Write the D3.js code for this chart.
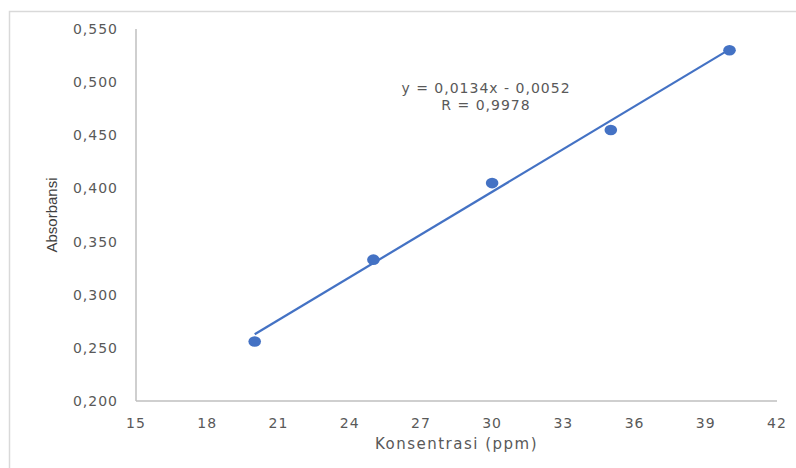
<!DOCTYPE html>
<html>
<head>
<meta charset="utf-8">
<script src="https://cdn.jsdelivr.net/npm/d3@7"></script>
<style>
  html, body { margin: 0; padding: 0; background: #fff; }
  svg { display: block; }
  .tick-label { font-family: "DejaVu Sans", sans-serif; font-size: 14px; fill: #595959; letter-spacing: 1px; }
</style>
</head>
<body>
<div id="chart"></div>
<script>
(() => {
  "use strict";

  // data
  const konsentrasi = [20, 25, 30, 35, 40];
  const absorbansi = [0.256, 0.333, 0.405, 0.455, 0.530];
  const xTicks = [15, 18, 21, 24, 27, 30, 33, 36, 39, 42];
  const yTicks = [0.2, 0.25, 0.3, 0.35, 0.4, 0.45, 0.5, 0.55];
  const slope = 0.0134;
  const intercept = -0.0052;
  const eqLines = ["y = 0,0134x - 0,0052", "R = 0,9978"];

  const W = 796, H = 468;
  const BLUE = "#4472c4";
  const AXIS = "#bfbfbf";

  const svg = d3.select("#chart").append("svg").attr("width", W).attr("height", H);

  // outer chart frame (only top/left edges fall inside the picture)
  svg.append("rect")
    .attr("x", 9.5).attr("y", 11.5).attr("width", W + 20).attr("height", H + 20)
    .attr("fill", "none").attr("stroke", "#d9d9d9").attr("stroke-width", 1.5);

  const x = d3.scaleLinear().domain([15, 42]).range([136, 777]);
  const y = d3.scaleLinear().domain([0.2, 0.55]).range([401, 29]);
  const fmt = (v) => v.toFixed(3).replace(".", ",");

  // axes lines
  svg.append("line").attr("x1", x(15)).attr("x2", x(15)).attr("y1", y(0.55)).attr("y2", y(0.2))
    .attr("stroke", AXIS).attr("stroke-width", 1.5);
  svg.append("line").attr("x1", x(15)).attr("x2", x(42)).attr("y1", y(0.2)).attr("y2", y(0.2))
    .attr("stroke", AXIS).attr("stroke-width", 1.5);

  svg.append("g").selectAll("text").data(yTicks).join("text")
    .attr("class", "tick-label")
    .attr("x", 118).attr("y", (d) => y(d)).attr("dy", "0.36em")
    .attr("text-anchor", "end")
    .text(fmt);

  svg.append("g").selectAll("text").data(xTicks).join("text")
    .attr("class", "tick-label")
    .attr("x", (d) => x(d)).attr("y", y(0.2) + 27)
    .attr("text-anchor", "middle")
    .text((d) => d);

  // axis titles
  svg.append("text")
    .attr("transform", `translate(57,${(y(0.2) + y(0.55)) / 2}) rotate(-90)`)
    .attr("text-anchor", "middle")
    .style("font-family", '"Liberation Sans Narrow", "Liberation Sans", sans-serif')
    .style("font-size", "15px").style("fill", "#404040")
    .text("Absorbansi");

  svg.append("text")
    .attr("x", (x(15) + x(42)) / 2).attr("y", 449)
    .attr("text-anchor", "middle")
    .style("font-family", '"DejaVu Sans", sans-serif')
    .style("font-size", "15px").style("fill", "#595959").style("letter-spacing", "1.5px")
    .text("Konsentrasi (ppm)");

  // linear trendline
  const x0 = d3.min(konsentrasi), x1 = d3.max(konsentrasi);
  svg.append("line")
    .attr("x1", x(x0)).attr("y1", y(slope * x0 + intercept))
    .attr("x2", x(x1)).attr("y2", y(slope * x1 + intercept))
    .attr("stroke", BLUE).attr("stroke-width", 2.25);

  svg.append("g").selectAll("ellipse").data(konsentrasi).join("ellipse")
    .attr("cx", (d) => x(d)).attr("cy", (d, i) => y(absorbansi[i]))
    .attr("rx", 6.3).attr("ry", 5.3)
    .attr("fill", BLUE);

  // equation label
  svg.append("g").selectAll("text").data(eqLines).join("text")
    .attr("class", "tick-label")
    .attr("x", 486).attr("y", (d, i) => 93 + i * 17)
    .attr("text-anchor", "middle")
    .text((d) => d);
})();
</script>
</body>
</html>
